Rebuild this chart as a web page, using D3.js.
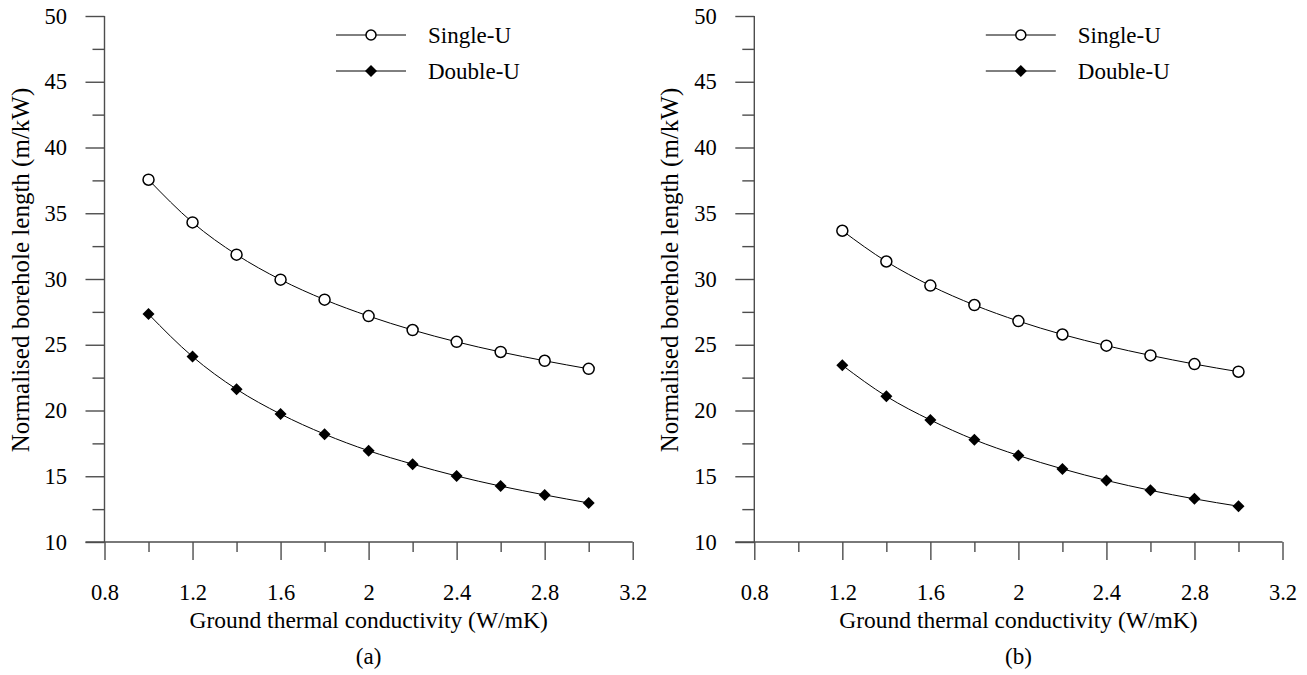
<!DOCTYPE html>
<html><head><meta charset="utf-8">
<script src="https://cdn.jsdelivr.net/npm/d3@7"></script>
<style>
body{margin:0;background:#fff}
svg{display:block}
text{font-family:"Liberation Serif","Times New Roman","DejaVu Serif",serif;fill:#000}
</style>
</head><body>
<svg id="chart" width="1307" height="675" font-family="Liberation Serif, Times New Roman, serif"></svg>
<script>
// ---- data ----
const conductivityA = [1.0, 1.2, 1.4, 1.6, 1.8, 2.0, 2.2, 2.4, 2.6, 2.8, 3.0];
const singleA = [37.55, 34.3, 31.85, 29.95, 28.43, 27.18, 26.12, 25.22, 24.45, 23.78, 23.17];
const doubleA = [27.33, 24.1, 21.62, 19.73, 18.2, 16.94, 15.92, 15.02, 14.25, 13.58, 12.97];
const conductivityB = [1.2, 1.4, 1.6, 1.8, 2.0, 2.2, 2.4, 2.6, 2.8, 3.0];
const singleB = [33.67, 31.33, 29.5, 28.02, 26.8, 25.78, 24.93, 24.19, 23.53, 22.95];
const doubleB = [23.44, 21.08, 19.28, 17.78, 16.58, 15.56, 14.68, 13.93, 13.28, 12.72];
const xMajorTicks = [0.8, 1.2, 1.6, 2.0, 2.4, 2.8, 3.2];
const xMinorTicks = [1.0, 1.4, 1.8, 2.2, 2.6, 3.0];
const yMajorTicks = [10, 15, 20, 25, 30, 35, 40, 45, 50];
const yMinorTicks = [12.5, 17.5, 22.5, 27.5, 32.5, 37.5, 42.5, 47.5];
const seriesNames = ["Single-U", "Double-U"];
const panelLabels = ["(a)", "(b)"];
const xTitle = "Ground thermal conductivity (W/mK)";
const yTitle = "Normalised borehole length (m/kW)";

const FONT = '"Liberation Serif","Times New Roman",serif';
const svg = d3.select("#chart");
const AX = "#4d4d4d";

const panels = [
  {ox: 0, x: conductivityA, s: singleA, d: doubleA, label: panelLabels[0]},
  {ox: 649.8, x: conductivityB, s: singleB, d: doubleB, label: panelLabels[1]}
];

const diamond = r => `M0,${-r}L${r},0L0,${r}L${-r},0Z`;

panels.forEach(p => {
  const g = svg.append("g").attr("transform", `translate(${p.ox},0)`);
  const x = d3.scaleLinear().domain([0.8, 3.2]).range([104.5, 632.7]);
  const y = d3.scaleLinear().domain([10, 50]).range([542, 16]);

  // y axis major
  const yMaj = g.append("g").attr("transform", `translate(${x(0.8)},0)`)
    .call(d3.axisLeft(y).tickValues(yMajorTicks).tickSize(19).tickPadding(18.5).tickFormat(d3.format("d")));
  yMaj.attr("font-family", FONT);
  yMaj.select(".domain").remove();
  yMaj.selectAll("line").attr("stroke", AX).attr("stroke-width", 1.4);
  yMaj.selectAll("text").attr("font-size", 22.5).attr("font-family", FONT).attr("fill", "#000");

  const yMin = g.append("g").attr("transform", `translate(${x(0.8)},0)`)
    .call(d3.axisLeft(y).tickValues(yMinorTicks).tickSize(12).tickFormat(""));
  yMin.select(".domain").remove();
  yMin.selectAll("line").attr("stroke", AX).attr("stroke-width", 1.4);

  // x axis major
  const xMaj = g.append("g").attr("transform", `translate(0,${y(10)})`)
    .call(d3.axisBottom(x).tickValues(xMajorTicks).tickSize(18).tickPadding(24).tickFormat(d => String(+d.toFixed(1))));
  xMaj.attr("font-family", FONT);
  xMaj.select(".domain").remove();
  xMaj.selectAll("line").attr("stroke", AX).attr("stroke-width", 1.4);
  xMaj.selectAll("text").attr("font-size", 22.5).attr("font-family", FONT).attr("fill", "#000");

  const xMin = g.append("g").attr("transform", `translate(0,${y(10)})`)
    .call(d3.axisBottom(x).tickValues(xMinorTicks).tickSize(10).tickFormat(""));
  xMin.select(".domain").remove();
  xMin.selectAll("line").attr("stroke", AX).attr("stroke-width", 1.4);

  // axis lines
  g.append("line").attr("x1", x(0.8)).attr("x2", x(0.8)).attr("y1", y(50)).attr("y2", y(10))
    .attr("stroke", AX).attr("stroke-width", 1.4);
  g.append("line").attr("x1", x(0.8) - 19).attr("x2", x(3.2)).attr("y1", y(10)).attr("y2", y(10))
    .attr("stroke", AX).attr("stroke-width", 1.4);

  // titles
  g.append("text").attr("x", (x(0.8) + x(3.2)) / 2).attr("y", 628).attr("font-family", FONT)
    .attr("text-anchor", "middle").attr("font-size", 23.5).text(xTitle);
  g.append("text").attr("x", (x(0.8) + x(3.2)) / 2).attr("y", 664).attr("font-family", FONT)
    .attr("text-anchor", "middle").attr("font-size", 23).text(p.label);
  g.append("text").attr("transform", `translate(${x(0.8) - 76},${270}) rotate(-90)`).attr("font-family", FONT)
    .attr("text-anchor", "middle").attr("font-size", 25).text(yTitle);

  // series
  const line = d3.line().x(d => x(d[0])).y(d => y(d[1])).curve(d3.curveMonotoneX);
  const sData = p.x.map((k, i) => [k, p.s[i]]);
  const dData = p.x.map((k, i) => [k, p.d[i]]);
  g.append("path").datum(sData).attr("d", line).attr("fill", "none").attr("stroke", "#000").attr("stroke-width", 1);
  g.append("path").datum(dData).attr("d", line).attr("fill", "none").attr("stroke", "#000").attr("stroke-width", 1);
  g.selectAll(".sm").data(sData).enter().append("circle")
    .attr("cx", d => x(d[0])).attr("cy", d => y(d[1])).attr("r", 5.5)
    .attr("fill", "#fff").attr("stroke", "#000").attr("stroke-width", 1.5);
  g.selectAll(".dm").data(dData).enter().append("path")
    .attr("transform", d => `translate(${x(d[0])},${y(d[1])})`).attr("d", diamond(6)).attr("fill", "#000");

  // legend
  const lg = g.append("g");
  [0, 1].forEach(i => {
    const ly = 35 + i * 36;
    lg.append("line").attr("x1", 336).attr("x2", 406).attr("y1", ly).attr("y2", ly).attr("stroke", "#000").attr("stroke-width", 1);
    if (i === 0) {
      lg.append("circle").attr("cx", 371).attr("cy", ly).attr("r", 5).attr("fill", "#fff").attr("stroke", "#000").attr("stroke-width", 1.5);
    } else {
      lg.append("path").attr("transform", `translate(371,${ly})`).attr("d", diamond(6)).attr("fill", "#000");
    }
    lg.append("text").attr("x", 428).attr("y", ly + 7.5).attr("font-family", FONT).attr("font-size", 23).text(seriesNames[i]);
  });
});
</script>
</body></html>
